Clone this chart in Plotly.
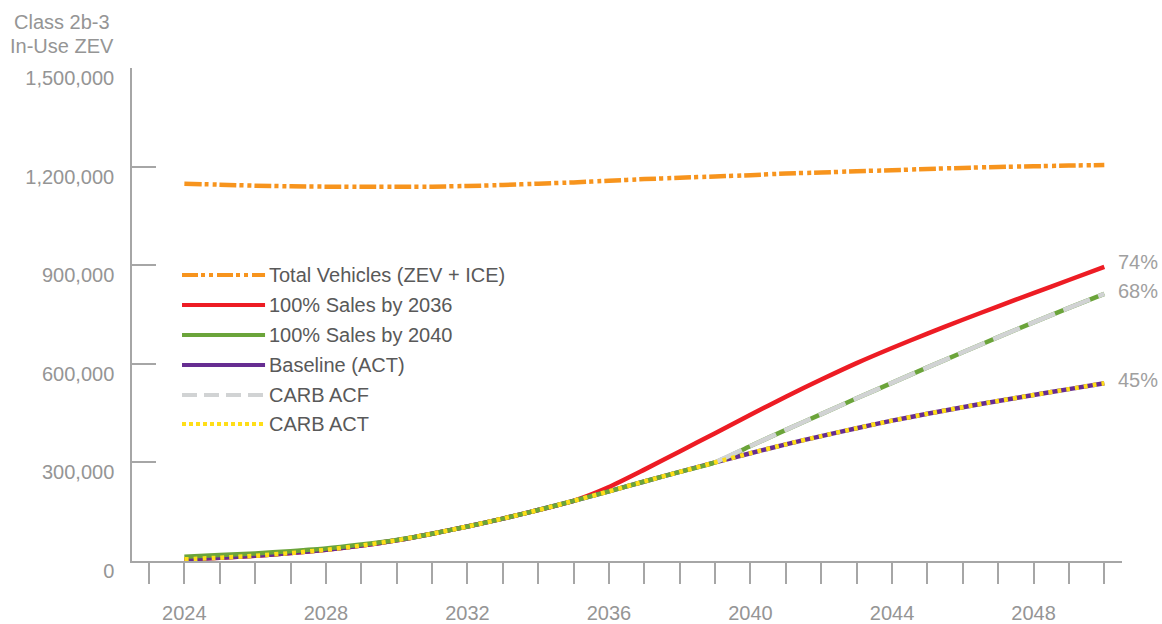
import plotly.graph_objects as go

years = list(range(2024, 2051))

total_vehicles = [1148000, 1145000, 1142000, 1140000, 1139000, 1138500, 1138500, 1139000,
                  1141000, 1144000, 1148000, 1152000, 1157000, 1162000, 1166000, 1170000,
                  1174000, 1179000, 1182000, 1186000, 1189000, 1193000, 1196000, 1199000,
                  1201000, 1203000, 1205000]

baseline_act = [5000, 10000, 16000, 24000, 34000, 47000, 63000, 83000, 105000, 129000,
                155000, 183000, 212000, 242000, 271000, 300000, 328000, 355000, 380000,
                404000, 427000, 448000, 468000, 487000, 505000, 523000, 541000]

sales_2036 = [5000, 10000, 16000, 24000, 34000, 47000, 63000, 83000, 105000, 129000,
              155000, 183000, 225000, 278000, 333000, 389000, 445000, 500000, 552000,
              602000, 648000, 692000, 734000, 775000, 815000, 855000, 895000]

sales_2040 = [13000, 18000, 23000, 30000, 38000, 50000, 64000, 83000, 105000, 129000,
              155000, 183000, 212000, 242000, 271000, 300000, 350000, 399000, 447000,
              495000, 542000, 589000, 635000, 681000, 726000, 770000, 813000]

carb_acf = [None] * 15 + sales_2040[15:]
carb_act = list(baseline_act)

end_labels = ["74%", "68%", "45%"]

legend_names = ["Total Vehicles (ZEV + ICE)", "100% Sales by 2036", "100% Sales by 2040",
                "Baseline (ACT)", "CARB ACF", "CARB ACT"]

tick_years = list(range(2023, 2051))
tick_labels = [str(y) if (y % 4 == 0) else "" for y in tick_years]
y_ticks = [0, 300000, 600000, 900000, 1200000, 1500000]
y_tick_labels = ["0", "300,000", "600,000", "900,000", "1,200,000", "1,500,000"]

ORANGE = "#F7941D"
RED = "#ED1C24"
GREEN = "#6BA43A"
PURPLE = "#662D91"
GRAY = "#D1D3D4"
YELLOW = "#FFDE17"

FONT = "Liberation Sans, Arial, sans-serif"
AXIS_COLOR = "#A6A6A6"
TICK_TEXT = "#959595"

LW = 4.5
SM = 0.6
fig = go.Figure()

fig.add_trace(go.Scatter(x=years, y=total_vehicles, mode="lines", name=legend_names[0],
                         line=dict(color=ORANGE, width=LW, shape="spline", smoothing=SM,
                                   dash="17px,3px,4px,4px,4px,3px")))
fig.add_trace(go.Scatter(x=years, y=sales_2036, mode="lines", name=legend_names[1],
                         line=dict(color=RED, width=LW, shape="spline", smoothing=SM)))
fig.add_trace(go.Scatter(x=years, y=baseline_act, mode="lines", name=legend_names[3],
                         line=dict(color=PURPLE, width=LW, shape="spline", smoothing=SM)))
fig.add_trace(go.Scatter(x=years, y=sales_2040, mode="lines", name=legend_names[2],
                         line=dict(color=GREEN, width=LW, shape="spline", smoothing=SM)))
fig.add_trace(go.Scatter(x=years, y=carb_acf, mode="lines", name=legend_names[4],
                         line=dict(color=GRAY, width=LW, shape="spline", smoothing=SM,
                                   dash="29px,9px")))
fig.add_trace(go.Scatter(x=years, y=carb_act, mode="lines", name=legend_names[5],
                         line=dict(color=YELLOW, width=LW, shape="spline", smoothing=SM,
                                   dash="4px,5px")))

# Manual legend (long symbol lines like the reference)
legend_styles = [
    (ORANGE, "16px,3px,4px,4px,4px,4px"),
    (RED, "solid"),
    (GREEN, "solid"),
    (PURPLE, "solid"),
    (GRAY, "15px,7px"),
    (YELLOW, "4px,3px"),
]
px_l, px_r, px_t, px_b = 132, 1121.7, 68, 561
def px2paper_x(px):
    return (px - px_l) / (px_r - px_l)
def px2paper_y(py):
    return (px_b - py) / (px_b - px_t)

row_y = [275, 305, 335, 365, 395, 424]
for name, (col, dsh), ry in zip(legend_names, legend_styles, row_y):
    fig.add_shape(type="line", xref="paper", yref="paper",
                  x0=px2paper_x(182), x1=px2paper_x(265),
                  y0=px2paper_y(ry), y1=px2paper_y(ry),
                  line=dict(color=col, width=4, dash=dsh))
    fig.add_annotation(xref="paper", yref="paper", x=px2paper_x(267), y=px2paper_y(ry),
                       xanchor="left", yanchor="middle", text=name, showarrow=False,
                       font=dict(family=FONT, size=20, color="#595959"))

# End labels
for lab, series, ys in zip(end_labels, [sales_2036, sales_2040, baseline_act], [5, 3, 3]):
    fig.add_annotation(x=years[-1], y=series[-1], xref="x", yref="y", text=lab,
                       showarrow=False, xanchor="left", yanchor="middle",
                       xshift=12, yshift=ys,
                       font=dict(family=FONT, size=20, color="#A0A0A0"))

# Axis title
fig.add_annotation(xref="paper", yref="paper", x=px2paper_x(62), y=px2paper_y(22),
                   xanchor="center", yanchor="middle", text="Class 2b-3", showarrow=False,
                   font=dict(family=FONT, size=20, color=TICK_TEXT))
fig.add_annotation(xref="paper", yref="paper", x=px2paper_x(62), y=px2paper_y(46),
                   xanchor="center", yanchor="middle", text="In-Use ZEV", showarrow=False,
                   font=dict(family=FONT, size=20, color=TICK_TEXT))

fig.update_layout(
    template="none",
    width=1162, height=624, autosize=False,
    margin=dict(l=px_l, r=1162 - px_r, t=px_t, b=624 - px_b, pad=0),
    paper_bgcolor="white", plot_bgcolor="white",
    showlegend=False,
    font=dict(family=FONT, size=20, color=TICK_TEXT),
)
fig.update_xaxes(
    automargin=False,
    range=[2022.52, 2050.5], showgrid=False, zeroline=False,
    showline=True, linecolor=AXIS_COLOR, linewidth=1.5,
    tickmode="array", tickvals=tick_years, ticktext=tick_labels,
    ticks="outside", ticklen=21, tickwidth=1.5, tickcolor=AXIS_COLOR,
    tickfont=dict(family=FONT, size=20, color=TICK_TEXT),
    ticklabelstandoff=12,
)
fig.update_yaxes(
    automargin=False,
    range=[0, 1500000], showgrid=False, zeroline=False,
    showline=True, linecolor=AXIS_COLOR, linewidth=1.5,
    tickmode="array", tickvals=y_ticks, ticktext=y_tick_labels,
    ticks="inside", ticklen=24, tickwidth=1.5, tickcolor=AXIS_COLOR,
    tickfont=dict(family=FONT, size=20, color=TICK_TEXT),
    ticklabelshift=10, ticklabelstandoff=12,
)

fig.write_html("out.html", config={"displayModeBar": False},
               post_script="document.body.style.margin='0px';")
